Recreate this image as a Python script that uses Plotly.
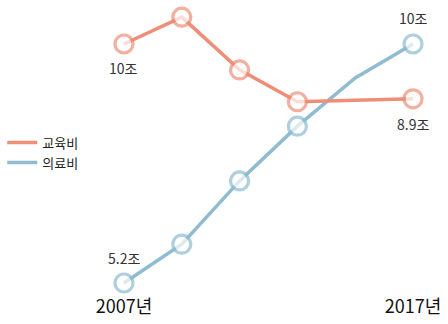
import plotly.graph_objects as go

years = [2007, 2009, 2011, 2013, 2015, 2017]
edu = [10.0, 10.54, 9.48, 8.84, 8.87, 8.9]
med = [5.2, 5.98, 7.25, 8.35, 9.32, 10.0]
marker_on = [True, True, True, True, False, True]
tick_years = [2007, 2017]
tick_labels = ["2007년", "2017년"]

ORANGE = "#ee8e77"
BLUE = "#8fbcd0"
FONT = "Noto Sans CJK KR"

sizes = [18 if m else 0 for m in marker_on]

fig = go.Figure()

for name, vals, col in [("의료비", med, BLUE), ("교육비", edu, ORANGE)]:
    fig.add_trace(go.Scatter(
        x=years, y=vals, mode="lines+markers", showlegend=False,
        line=dict(color=col, width=3.5),
        marker=dict(size=sizes, color="white", line=dict(color=col, width=3.2))))

# legend-only entries (line sample without marker)
for name, col in [("교육비", ORANGE), ("의료비", BLUE)]:
    fig.add_trace(go.Scatter(x=[None], y=[None], mode="lines", name=name,
                             line=dict(color=col, width=3.5)))

labels = [
    (years[0], edu[0], "10조", 24),
    (years[-1], edu[-1], "8.9조", 25),
    (years[0], med[0], "5.2조", -25),
    (years[-1], med[-1], "10조", -26),
]
for x, y, t, dy in labels:
    fig.add_annotation(x=x, y=y, text=t, showarrow=False, yshift=-dy,
                       font=dict(family=FONT, size=14, color="#333"))

fig.update_layout(
    width=448, height=324,
    margin=dict(l=0, r=0, t=0, b=30),
    paper_bgcolor="white", plot_bgcolor="white",
    font=dict(family=FONT),
    legend=dict(x=0.005, y=0.566, xanchor="left", yanchor="top",
                font=dict(family=FONT, size=13, color="#222"),
                tracegroupgap=0, itemwidth=30, bgcolor="rgba(0,0,0,0)"),
    xaxis=dict(range=[2002.71, 2018.21], showgrid=False, zeroline=False,
               showline=False, tickvals=tick_years, ticktext=tick_labels,
               ticks="", tickfont=dict(family=FONT, size=18, color="#111")),
    yaxis=dict(range=[4.979, 10.884], visible=False),
)

fig.write_html("out.html", config={"displayModeBar": False},
               post_script="document.body.style.margin='0';")
